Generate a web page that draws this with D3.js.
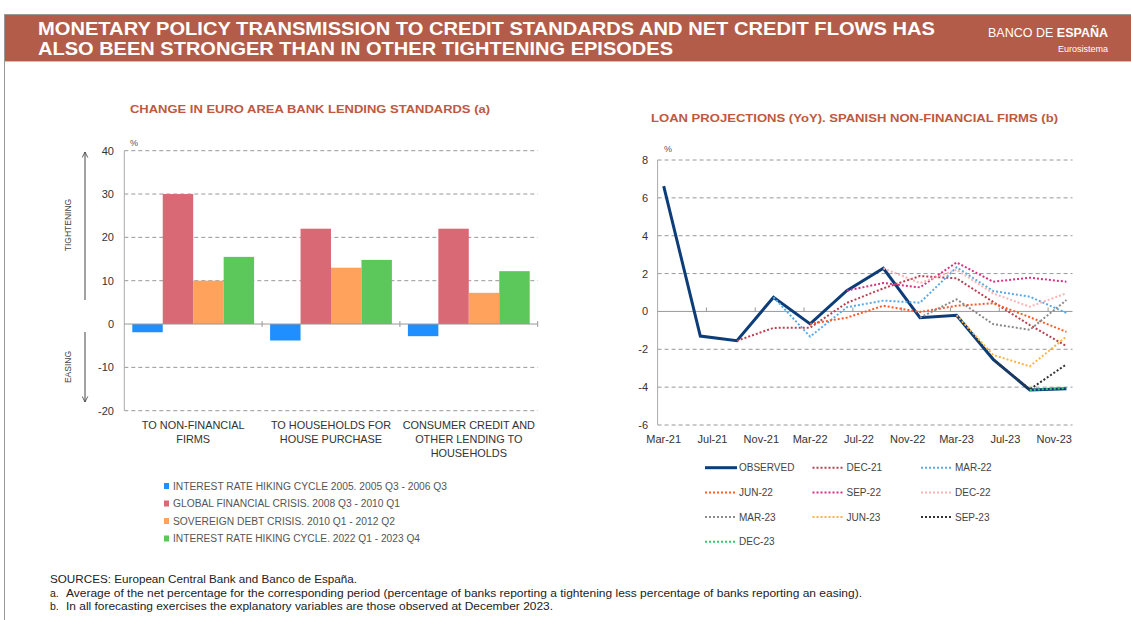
<!DOCTYPE html>
<html><head><meta charset="utf-8">
<script src="https://cdn.jsdelivr.net/npm/d3@7"></script>
<style>
body{margin:0;background:#fff;}
text{font-family:"Liberation Sans",Arial,sans-serif;}
</style></head>
<body><svg id="c" width="1131" height="620"></svg>
<script>
// ---------- DATA ----------
const barCategories = [["TO NON-FINANCIAL","FIRMS"],["TO HOUSEHOLDS FOR","HOUSE PURCHASE"],["CONSUMER CREDIT AND","OTHER LENDING TO","HOUSEHOLDS"]];
const barSeriesNames = ["INTEREST RATE HIKING CYCLE 2005. 2005 Q3 - 2006 Q3","GLOBAL FINANCIAL CRISIS. 2008 Q3 - 2010 Q1","SOVEREIGN DEBT CRISIS.  2010 Q1 - 2012 Q2","INTEREST RATE HIKING CYCLE. 2022 Q1 - 2023 Q4"];
const hike2005 = [-1.9, -3.8, -2.8];
const gfc = [30, 22, 22];
const sovereign = [10, 13, 7.2];
const hike2022 = [15.5, 14.8, 12.2];
const barTicks = [-20,-10,0,10,20,30,40];

const months = ["Mar-21","Apr-21","May-21","Jun-21","Jul-21","Aug-21","Sep-21","Oct-21","Nov-21","Dec-21","Jan-22","Feb-22","Mar-22","Apr-22","May-22","Jun-22","Jul-22","Aug-22","Sep-22","Oct-22","Nov-22","Dec-22","Jan-23","Feb-23","Mar-23","Apr-23","May-23","Jun-23","Jul-23","Aug-23","Sep-23","Oct-23","Nov-23","Dec-23"];
const xTickLabels = ["Mar-21","Jul-21","Nov-21","Mar-22","Jul-22","Nov-22","Mar-23","Jul-23","Nov-23"];
const quarters = ["Mar-21","Jun-21","Sep-21","Dec-21","Mar-22","Jun-22","Sep-22","Dec-22","Mar-23","Jun-23","Sep-23","Dec-23"];
const observed = [6.62, -1.3, -1.55, 0.75, -0.66, 1.1, 2.28, -0.33, -0.2, -2.53, -4.15, -4.08];
const projDec21 = [null,null,-1.55,-0.87,-0.86,0.45,1.22,1.87,1.75,0.5,-0.72,-1.83];
const projMar22 = [null,null,null,0.75,-1.33,0.22,0.57,0.46,2.33,1.08,0.78,-0.08];
const projJun22 = [null,null,null,null,-0.66,-0.33,0.3,-0.03,0.3,0.43,-0.3,-1.08];
const projSep22 = [null,null,null,null,null,1.1,1.5,1.27,2.59,1.57,1.78,1.57];
const projDec22 = [null,null,null,null,null,null,2.28,1.5,2.2,0.95,0.25,0.96];
const projMar23 = [null,null,null,null,null,null,null,-0.33,0.64,-0.67,-0.97,0.6];
const projJun23 = [null,null,null,null,null,null,null,null,-0.2,-2.3,-2.9,-1.33];
const projSep23 = [null,null,null,null,null,null,null,null,null,-2.53,-4.12,-2.8];
const projDec23 = [null,null,null,null,null,null,null,null,null,null,-4.15,-4.05];
const lineTicks = [-6,-4,-2,0,2,4,6,8];

// ---------- STYLE ----------
const barColors = ["#1f8fff","#d96a75","#ffa25c","#5cc85c"];
const barLegendWidths = [274, 227, 222, 247];
const projections = [
  {name:"DEC-21", values:projDec21, color:"#b8404f"},
  {name:"MAR-22", values:projMar22, color:"#5aaae6"},
  {name:"JUN-22", values:projJun22, color:"#ff5a26"},
  {name:"SEP-22", values:projSep22, color:"#d92f86"},
  {name:"DEC-22", values:projDec22, color:"#ffb3b3"},
  {name:"MAR-23", values:projMar23, color:"#8a8a8a"},
  {name:"JUN-23", values:projJun23, color:"#ffb340"},
  {name:"SEP-23", values:projSep23, color:"#333333"},
  {name:"DEC-23", values:projDec23, color:"#2ecc71"}
];
const svg = d3.select("#c");
const titleColor = "#c0583f";

// ---------- HEADER ----------
svg.append("line").attr("x1",4).attr("x2",1131).attr("y1",14.5).attr("y2",14.5).attr("stroke","#999");
svg.append("line").attr("x1",4.5).attr("x2",4.5).attr("y1",14).attr("y2",620).attr("stroke","#999");
svg.append("rect").attr("x",5).attr("y",15).attr("width",1126).attr("height",46).attr("fill","#b35c49");
svg.append("line").attr("x1",5).attr("x2",1131).attr("y1",61.5).attr("y2",61.5).attr("stroke","#e0b8ae");
svg.append("text").attr("x",38).attr("y",35).attr("fill","#fff").attr("font-weight","bold").attr("font-size",18)
  .attr("textLength",897).attr("lengthAdjust","spacingAndGlyphs")
  .text("MONETARY POLICY TRANSMISSION TO CREDIT STANDARDS AND NET CREDIT FLOWS HAS");
svg.append("text").attr("x",38).attr("y",55).attr("fill","#fff").attr("font-weight","bold").attr("font-size",18)
  .attr("textLength",635).attr("lengthAdjust","spacingAndGlyphs")
  .text("ALSO BEEN STRONGER THAN IN OTHER TIGHTENING EPISODES");
const bde = svg.append("text").attr("x",988).attr("y",37).attr("fill","#fff").attr("font-size",12.5)
  .attr("textLength",120).attr("lengthAdjust","spacingAndGlyphs");
bde.append("tspan").text("BANCO DE ");
bde.append("tspan").attr("font-weight","bold").text("ESPAÑA");
svg.append("text").attr("x",1108).attr("y",52).attr("fill","#fff").attr("font-size",9).attr("text-anchor","end").text("Eurosistema");

// ---------- BAR CHART ----------
svg.append("text").attr("x",130).attr("y",113).attr("fill",titleColor).attr("font-weight","bold").attr("font-size",11.5)
  .attr("textLength",360).attr("lengthAdjust","spacingAndGlyphs").text("CHANGE IN EURO AREA BANK LENDING STANDARDS (a)");

const bx = d3.scaleBand().domain(d3.range(barCategories.length)).range([124.3,537.7]).padding(0);
const bs = d3.scaleBand().domain(d3.range(barSeriesNames.length)).range([8, bx.bandwidth()-8]).padding(0);
const by = d3.scaleLinear().domain([-20,40]).range([410.7,150.7]);
const barData = [hike2005, gfc, sovereign, hike2022];

const gb = svg.append("g");
barTicks.filter(t=>t!==0).forEach(t=>{
  gb.append("line").attr("x1",124.3).attr("x2",537.7).attr("y1",by(t)).attr("y2",by(t))
    .attr("stroke","#8c8c8c").attr("stroke-dasharray","4,3").attr("stroke-width",0.9);
});
barTicks.forEach(t=>{
  gb.append("text").attr("x",114).attr("y",by(t)+4).attr("text-anchor","end").attr("font-size",11).attr("fill","#333").text(t);
});
gb.append("line").attr("x1",124.3).attr("x2",124.3).attr("y1",by(40)).attr("y2",by(-20)).attr("stroke","#aaa");
barData.forEach((vals,si)=>{
  vals.forEach((v,ci)=>{
    gb.append("rect").attr("x",bx(ci)+bs(si)).attr("width",bs.bandwidth())
      .attr("y",by(Math.max(0,v))).attr("height",Math.abs(by(v)-by(0))).attr("fill",barColors[si]);
  });
});
gb.append("line").attr("x1",124.3).attr("x2",537.7).attr("y1",by(0)).attr("y2",by(0)).attr("stroke","#999");
d3.range(1,barCategories.length+1).forEach(i=>{
  const xx = 124.3 + i*bx.bandwidth();
  gb.append("line").attr("x1",xx).attr("x2",xx).attr("y1",by(0)-3).attr("y2",by(0)+3).attr("stroke","#999");
});
gb.append("text").attr("x",134).attr("y",146).attr("text-anchor","middle").attr("font-size",9).attr("fill","#555").text("%");
barCategories.forEach((lines,ci)=>{
  lines.forEach((ln,li)=>{
    gb.append("text").attr("x",bx(ci)+bx.bandwidth()/2).attr("y",429+li*14).attr("text-anchor","middle")
      .attr("font-size",10.9).attr("fill","#333").text(ln);
  });
});
// arrows
const defs = svg.append("defs");
defs.append("marker").attr("id","ah").attr("viewBox","0 0 10 10").attr("refX",9).attr("refY",5)
  .attr("markerWidth",7).attr("markerHeight",7).attr("orient","auto-start-reverse")
  .append("path").attr("d","M1,1 L9,5 L1,9").attr("fill","none").attr("stroke","#444").attr("stroke-width",1.2);
gb.append("line").attr("x1",85).attr("x2",85).attr("y1",300).attr("y2",152).attr("stroke","#444").attr("marker-end","url(#ah)");
gb.append("line").attr("x1",85).attr("x2",85).attr("y1",332).attr("y2",402).attr("stroke","#444").attr("marker-end","url(#ah)");
gb.append("text").attr("transform","translate(71,225) rotate(-90)").attr("text-anchor","middle").attr("font-size",8.5).attr("fill","#444").text("TIGHTENING");
gb.append("text").attr("transform","translate(71,367) rotate(-90)").attr("text-anchor","middle").attr("font-size",8.5).attr("fill","#444").text("EASING");
// legend
barSeriesNames.forEach((n,i)=>{
  const yy = 486 + i*17.5;
  gb.append("rect").attr("x",164).attr("y",yy-3).attr("width",5).attr("height",6).attr("fill",barColors[i]);
  gb.append("text").attr("x",173).attr("y",yy+3.5).attr("font-size",10).attr("fill","#555")
    .attr("textLength",barLegendWidths[i]).attr("lengthAdjust","spacingAndGlyphs").text(n);
});

// ---------- LINE CHART ----------
svg.append("text").attr("x",651).attr("y",122).attr("fill",titleColor).attr("font-weight","bold").attr("font-size",11.5)
  .attr("textLength",407).attr("lengthAdjust","spacingAndGlyphs").text("LOAN PROJECTIONS (YoY). SPANISH NON-FINANCIAL FIRMS (b)");

const lx = d3.scaleBand().domain(months).range([657.6,1072.5]).padding(0);
const ly = d3.scaleLinear().domain([-6,8]).range([425,160]);
const cx = m => lx(m) + lx.bandwidth()/2;
const gl = svg.append("g");
lineTicks.filter(t=>t!==0).forEach(t=>{
  gl.append("line").attr("x1",657.6).attr("x2",1072.5).attr("y1",ly(t)).attr("y2",ly(t))
    .attr("stroke","#8c8c8c").attr("stroke-dasharray","4,3").attr("stroke-width",0.9);
});
lineTicks.forEach(t=>{
  gl.append("text").attr("x",648).attr("y",ly(t)+4).attr("text-anchor","end").attr("font-size",11).attr("fill","#333").text(t);
});
gl.append("line").attr("x1",657.6).attr("x2",657.6).attr("y1",ly(8)).attr("y2",ly(-6)).attr("stroke","#aaa");
gl.append("line").attr("x1",657.6).attr("x2",1072.5).attr("y1",ly(0)).attr("y2",ly(0)).attr("stroke","#999");
xTickLabels.forEach((m,i)=>{
  if(i>0) gl.append("line").attr("x1",lx(m)).attr("x2",lx(m)).attr("y1",ly(0)).attr("y2",ly(0)-4).attr("stroke","#999");
  gl.append("text").attr("x",cx(m)).attr("y",443).attr("text-anchor","middle").attr("font-size",11).attr("fill","#333").text(m);
});
gl.append("text").attr("x",668).attr("y",152).attr("text-anchor","middle").attr("font-size",9).attr("fill","#555").text("%");

const lineGen = d3.line().defined(d=>d.v!==null).x(d=>cx(d.q)).y(d=>ly(d.v));
gl.append("path").datum(quarters.map((q,i)=>({q,v:observed[i]}))).attr("d",lineGen)
  .attr("fill","none").attr("stroke","#0d3d78").attr("stroke-width",3).attr("stroke-linejoin","miter");
projections.forEach(p=>{
  gl.append("path").datum(quarters.map((q,i)=>({q,v:p.values[i]}))).attr("d",lineGen)
    .attr("fill","none").attr("stroke",p.color).attr("stroke-width",2).attr("stroke-dasharray","2,2");
});
// legend
const legItems = [{name:"OBSERVED",color:"#0d3d78",solid:true}].concat(projections);
const colX = [705, 812.5, 921];
legItems.forEach((it,i)=>{
  const col = i%3, row = Math.floor(i/3);
  const yy = 467.7 + row*24.7;
  gl.append("line").attr("x1",colX[col]).attr("x2",colX[col]+32).attr("y1",yy).attr("y2",yy)
    .attr("stroke",it.color).attr("stroke-width",it.solid?3:2).attr("stroke-dasharray",it.solid?null:"2,2");
  gl.append("text").attr("x",colX[col]+34).attr("y",yy+3.6).attr("font-size",10).attr("fill","#444").text(it.name);
});

// ---------- FOOTER ----------
const ft = svg.append("g").attr("fill","#222");
ft.append("text").attr("x",50).attr("y",583).attr("font-size",10.5).attr("textLength",307).attr("lengthAdjust","spacingAndGlyphs")
  .text("SOURCES:  European Central Bank and Banco de España.");
ft.append("text").attr("x",50).attr("y",597).attr("font-size",10.5).text("a.");
ft.append("text").attr("x",66).attr("y",597).attr("font-size",10.5).attr("textLength",796).attr("lengthAdjust","spacingAndGlyphs")
  .text("Average of the net percentage  for the corresponding period (percentage  of banks reporting a tightening  less percentage  of banks reporting an easing).");
ft.append("text").attr("x",50).attr("y",610).attr("font-size",10.5).text("b.");
ft.append("text").attr("x",66).attr("y",610).attr("font-size",10.5).attr("textLength",487).attr("lengthAdjust","spacingAndGlyphs")
  .text("In all forecasting exercises the explanatory variables are those observed at December 2023.");
</script></body></html>
